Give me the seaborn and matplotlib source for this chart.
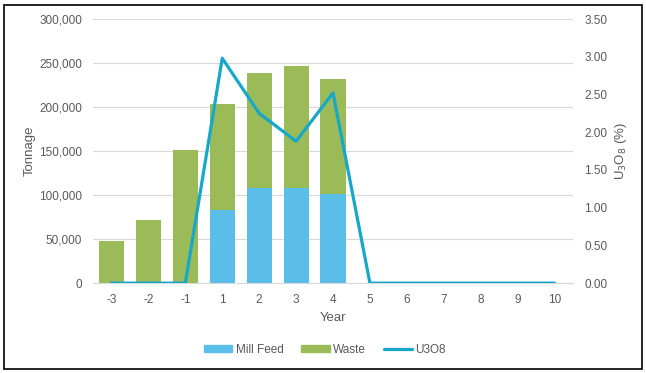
import pandas as pd
import matplotlib.pyplot as plt
import seaborn as sns
from matplotlib.patches import Rectangle, Patch
from matplotlib.lines import Line2D
from matplotlib.ticker import FuncFormatter, MultipleLocator

# Chart data
years = ["-3", "-2", "-1", "1", "2", "3", "4", "5", "6", "7", "8", "9", "10"]
mill_feed = [0, 0, 0, 83000, 108000, 108000, 101000, 0, 0, 0, 0, 0, 0]
waste = [48000, 72000, 151000, 121000, 131000, 139000, 131000, 0, 0, 0, 0, 0, 0]
u3o8 = [0, 0, 0, 2.98, 2.25, 1.88, 2.52, 0, 0, 0, 0, 0, 0]

df = pd.DataFrame({"year": years, "mill": mill_feed, "waste": waste, "u3o8": u3o8})
df["total"] = df["mill"] + df["waste"]

sns.set_style("white")
plt.rcParams["font.family"] = ["Liberation Sans", "DejaVu Sans"]
grey = "#595959"
c_mill = "#5BBEE8"
c_waste = "#9BBB59"
c_line = "#17A8C9"

fig = plt.figure(figsize=(6.46, 3.73), dpi=100)
ax = fig.add_axes([0.144, 0.241, 0.743, 0.708])

sns.barplot(data=df, x="year", y="total", order=years, color=c_waste,
            width=0.68, saturation=1, linewidth=0, ax=ax)
sns.barplot(data=df, x="year", y="mill", order=years, color=c_mill,
            width=0.68, saturation=1, linewidth=0, ax=ax)

ax.set_ylim(0, 300000)
ax.yaxis.set_major_locator(MultipleLocator(50000))
ax.yaxis.set_major_formatter(FuncFormatter(lambda v, p: f"{int(v):,}"))
ax.grid(axis="y", color="#D9D9D9", linewidth=0.8)
ax.set_axisbelow(True)
for s in ["top", "left", "right"]:
    ax.spines[s].set_visible(False)
ax.spines["bottom"].set_color("#D9D9D9")
ax.tick_params(length=0, labelsize=8.5, labelcolor=grey, pad=8)
ax.set_xlabel("Year", fontsize=9.5, color=grey, labelpad=4)
ax.set_ylabel("Tonnage", fontsize=9.5, color=grey, labelpad=2)

ax2 = ax.twinx()
sns.pointplot(data=df, x="year", y="u3o8", order=years, color=c_line,
              markers="", linestyles="-", ax=ax2)
for ln in ax2.lines:
    ln.set_linewidth(2.3)
ax2.set_ylim(0, 3.5)
ax2.yaxis.set_major_locator(MultipleLocator(0.5))
ax2.yaxis.set_major_formatter(FuncFormatter(lambda v, p: f"{v:.2f}"))
for s in ["top", "left", "right", "bottom"]:
    ax2.spines[s].set_visible(False)
ax2.tick_params(length=0, labelsize=8.5, labelcolor=grey, pad=8)
ax2.set_ylabel("U$_3$O$_8$ (%)", fontsize=9.5, color=grey, labelpad=4)
ax2.set_xlim(-0.5, len(years) - 0.5)
ax.set_xlim(-0.5, len(years) - 0.5)

handles = [Patch(color=c_mill, label="Mill Feed"),
           Patch(color=c_waste, label="Waste"),
           Line2D([0], [0], color=c_line, lw=2.3, label="U3O8")]
fig.legend(handles=handles, loc="center", bbox_to_anchor=(0.503, 0.062), ncol=3,
           frameon=False, fontsize=8.5, labelcolor=grey, handlelength=2.4,
           handleheight=0.5, handletextpad=0.3, columnspacing=1.5)

fig.patches.append(Rectangle((4 / 646, 1 - 369 / 373), 638 / 646, 364 / 373,
                             transform=fig.transFigure, fill=False,
                             edgecolor="black", linewidth=1.2))

fig.savefig("out.png", dpi=100)
